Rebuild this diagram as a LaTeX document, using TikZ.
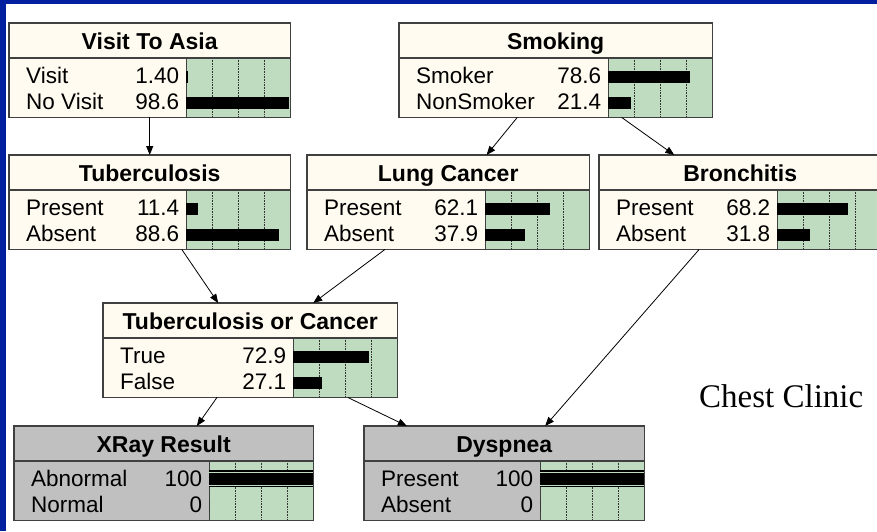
\documentclass[tikz,border=0pt]{standalone}
\usepackage{fontspec}
\setmainfont{Liberation Sans}
\newfontfamily\clinicfont{Liberation Serif}
\definecolor{FrameBlue}{RGB}{0, 32, 160}
\definecolor{NodeCream}{RGB}{255, 251, 240}
\definecolor{NodeGrey}{RGB}{192, 192, 192}
\definecolor{BarGreen}{RGB}{192, 220, 192}
\definecolor{BoxLine}{RGB}{64, 64, 64}
\usetikzlibrary{arrows.meta, calc}
\tikzset{
  bnbox/.style={rectangle, anchor=north west, inner sep=0pt, minimum height=94pt},
  bnline/.style={draw=BoxLine, line width=1.4pt},
  bngrid/.style={black!80, line width=0.6pt, densely dotted},
  bntitle/.style={anchor=base, inner sep=0pt, font=\fontsize{23}{27}\selectfont\bfseries},
  bnlabel/.style={anchor=base west, inner sep=0pt, font=\fontsize{22.5}{26}\selectfont},
  bnvalue/.style={anchor=base east, inner sep=0pt, font=\fontsize{22.5}{26}\selectfont},
  bnedge/.style={black, line width=0.8pt, -{Triangle[length=9pt, width=7pt]}},
}
% node with title and empty belief table
\newcommand{\bnnode}[5]{%
  \node[bnbox, fill=#4, minimum width=#3] (#1) at (#2) {};
  \fill[BarGreen] ([xshift=-104pt, yshift=-35pt]#1.north east) rectangle (#1.south east);
  \foreach \q in {26,52,78}
    \draw[bngrid] ([xshift={(\q-104)*1pt}, yshift=-35pt]#1.north east) -- ([xshift={(\q-104)*1pt}]#1.south east);
  \draw[bnline] ([yshift=-35pt]#1.north west) -- ([yshift=-35pt]#1.north east);
  \draw[bnline] ([xshift=-104pt, yshift=-35pt]#1.north east) -- ([xshift=-104pt]#1.south east);
  \node[bntitle] (#1-title) at ([yshift=-26pt]#1.north) {#5};
}
% one state: node, row, label, value, percent
\newcommand{\bnrow}[5]{%
  \node[bnlabel] (#1-label#2) at ([xshift=17pt, yshift={-(34+26*#2)*1pt}]#1.north west) {#3};
  \node[bnvalue] (#1-value#2) at ([xshift=-111pt, yshift={-(34+26*#2)*1pt}]#1.north east) {#4};
  \fill[black] ([xshift=-104pt, yshift={-(34+26*#2)*1pt}]#1.north east) rectangle ++({1.04*#5}, 12);
}
% observed state
\newcommand{\bnfound}[4]{%
  \node[bnlabel] (#1-label#2) at ([xshift=17pt, yshift={-(34+26*#2)*1pt}]#1.north west) {#3};
  \node[bnvalue] (#1-value#2) at ([xshift=-111pt, yshift={-(34+26*#2)*1pt}]#1.north east) {#4};
  \fill[black] ([xshift=-104pt, yshift={-(35+26*#2)*1pt}]#1.north east) rectangle ++(104, 17);
  \draw[BarGreen, line width=0.8pt] ([xshift=-104pt, yshift={-(33+26*#2)*1pt}]#1.north east) -- ++(104, 0);
  \draw[BarGreen, line width=0.8pt] ([xshift=-104pt, yshift={-(20+26*#2)*1pt}]#1.north east) -- ++(104, 0);
}
\newcommand{\bnframe}[1]{\draw[bnline] (#1.north west) rectangle (#1.south east);}

\begin{document}
\begin{tikzpicture}[x=1pt, y=1pt]
\useasboundingbox (0,0) rectangle (877,-531);
\clip (0,0) rectangle (877,-531);
\fill[white] (0,0) rectangle (877,-531);
\fill[FrameBlue] (0,0) rectangle (877,-4);
\fill[FrameBlue] (0,0) rectangle (6,-531);

% Top row
\bnnode{asia}{9,-23}{281pt}{NodeCream}{Visit To Asia}
\bnrow{asia}{1}{Visit}{1.40}{1.40}
\bnrow{asia}{2}{No Visit}{98.6}{98.6}
\bnframe{asia}

\bnnode{smoke}{399,-23}{313pt}{NodeCream}{Smoking}
\bnrow{smoke}{1}{Smoker}{78.6}{78.6}
\bnrow{smoke}{2}{NonSmoker}{21.4}{21.4}
\bnframe{smoke}

% Middle row
\bnnode{tub}{9,-155}{281pt}{NodeCream}{Tuberculosis}
\bnrow{tub}{1}{Present}{11.4}{11.4}
\bnrow{tub}{2}{Absent}{88.6}{88.6}
\bnframe{tub}

\bnnode{lung}{307,-155}{282pt}{NodeCream}{Lung Cancer}
\bnrow{lung}{1}{Present}{62.1}{62.1}
\bnrow{lung}{2}{Absent}{37.9}{37.9}
\bnframe{lung}

\bnnode{bronc}{599,-155}{282pt}{NodeCream}{Bronchitis}
\bnrow{bronc}{1}{Present}{68.2}{68.2}
\bnrow{bronc}{2}{Absent}{31.8}{31.8}
\bnframe{bronc}

\bnnode{either}{103,-303}{294pt}{NodeCream}{Tuberculosis or Cancer}
\bnrow{either}{1}{True}{72.9}{72.9}
\bnrow{either}{2}{False}{27.1}{27.1}
\bnframe{either}

% Evidence
\bnnode{xray}{14,-426}{299pt}{NodeGrey}{XRay Result}
\bnfound{xray}{1}{Abnormal}{100}
\bnrow{xray}{2}{Normal}{0}{0}
\bnframe{xray}

\bnnode{dysp}{364,-426}{280pt}{NodeGrey}{Dyspnea}
\bnfound{dysp}{1}{Present}{100}
\bnrow{dysp}{2}{Absent}{0}{0}
\bnframe{dysp}

\node[anchor=base west, inner sep=0pt, font=\clinicfont\fontsize{33}{38}\selectfont] (clinic) at (699,-407) {Chest Clinic};

% Links
\draw[bnedge] (asia) -- (tub);
\draw[bnedge] (smoke) -- (lung);
\draw[bnedge] (smoke) -- (bronc);
\draw[bnedge] (tub) -- (either);
\draw[bnedge] (lung) -- (either);
\draw[bnedge] (bronc) -- (dysp);
\draw[bnedge] (either) -- (xray);
\draw[bnedge] (either) -- (dysp);
\end{tikzpicture}
\end{document}
